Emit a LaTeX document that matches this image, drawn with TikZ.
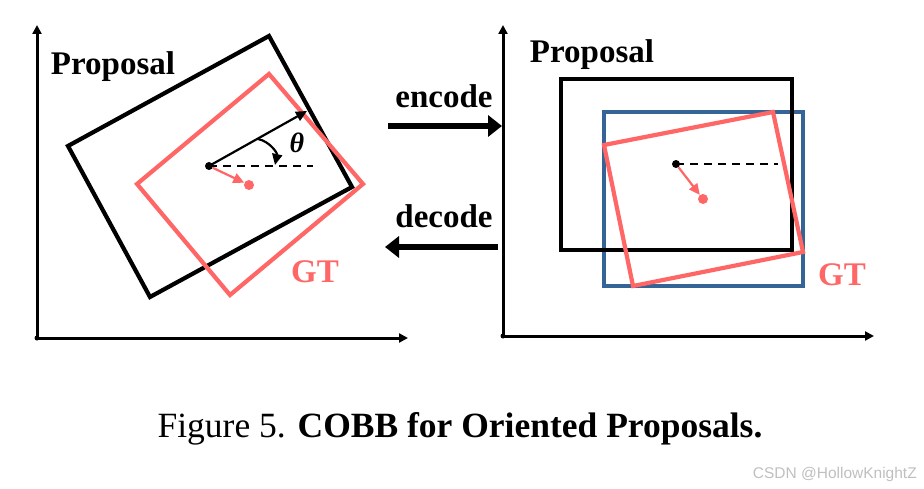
\documentclass[tikz,border=0pt]{standalone}
\usepackage{fontspec}
\setmainfont{Liberation Serif}
\newfontfamily\wmfont{Liberation Sans}
\usetikzlibrary{arrows.meta}
\definecolor{gtred}{RGB}{255,102,102}
\definecolor{hboxblue}{RGB}{52,101,150}

\begin{document}
\begin{tikzpicture}[x=1pt, y=-1pt,
  axis/.style={line width=3pt, -{Triangle[length=9pt,width=9pt]}},
  obox/.style={line width=4.2pt, line join=miter},
  thin arrow/.style={line width=2.2pt, -{Triangle[length=11pt,width=10pt]}},
  big arrow/.style={line width=6.5pt, -{Triangle[length=14pt,width=21pt]}},
  lbl/.style={font=\fontsize{33}{33}\selectfont\bfseries, inner sep=0pt, anchor=base},
  cdot/.style={circle, fill=black, inner sep=0pt, minimum size=8pt},
  gdot/.style={circle, fill=gtred, inner sep=0pt, minimum size=10pt},
  ref line/.style={line width=2.4pt, dash pattern=on 8pt off 6pt}]
\useasboundingbox (0,0) rectangle (924,489);

\coordinate (lo) at (37,338);
\coordinate (ly) at (37,25);
\coordinate (lx) at (408,338);
\draw[axis] (lo) -- (ly);
\draw[axis] (lo) -- (lx);
\fill (lo) circle (2.5);
\draw[obox] (68,146) -- (269,36) -- (352,187) -- (150,297) -- cycle;
\draw[obox, gtred] (269,74) -- (363,184) -- (230,295) -- (137,184) -- cycle;
\coordinate (dl) at (313,166);
\coordinate (al) at (307,111);
\coordinate (tl1) at (258,139);
\coordinate (tl2) at (275,165);
\node[cdot] (cl) at (209,166) {};
\draw[ref line] (cl.center) -- (dl);
\draw[thin arrow] (cl.center) -- (al);
\draw[thin arrow] (tl1) to[bend left=45] (tl2);
\node[gdot] (gl) at (249,185) {};
\draw[thin arrow, gtred] (cl) -- (gl);
\node[lbl] (pl) at (113,75) {Proposal};
\node[lbl, gtred] (gtl) at (315,283) {GT};
\node[font=\fontsize{28}{28}\selectfont\bfseries\itshape] (th) at (297,143) {θ};

\node[lbl] (enc) at (444,108) {encode};
\coordinate (e1) at (388,126);
\coordinate (e2) at (502,126);
\draw[big arrow] (e1) -- (e2);
\node[lbl] (dec) at (444,228) {decode};
\coordinate (d1) at (498,247);
\coordinate (d2) at (385,247);
\draw[big arrow] (d1) -- (d2);

\coordinate (ro) at (503,336);
\coordinate (ry) at (503,25);
\coordinate (rx) at (874,336);
\draw[axis] (ro) -- (ry);
\draw[axis] (ro) -- (rx);
\fill (ro) circle (2.5);
\draw[obox, hboxblue] (604,112) rectangle (803,286);
\draw[obox] (561,79) rectangle (792,250);
\draw[obox, gtred] (604,145) -- (773,112) -- (803,252) -- (633,286) -- cycle;
\coordinate (dr) at (778,164);
\node[cdot] (cr) at (676,164) {};
\draw[ref line] (cr.center) -- (dr);
\node[gdot] (gr) at (703,199) {};
\draw[thin arrow, gtred] (cr) -- (gr);
\node[lbl] (pr) at (592,63) {Proposal};
\node[lbl, gtred] (gtr) at (842,285) {GT};

\node[anchor=base, inner sep=0pt, font=\fontsize{35.5}{36}\selectfont] (cap) at (460,437) {Figure 5. \textbf{COBB for Oriented Proposals.}};
\node[anchor=base east, inner sep=0pt, text=black!25, font=\wmfont\fontsize{15.5}{16}\selectfont] (wm) at (917,478) {CSDN @HollowKnightZ};
\end{tikzpicture}
\end{document}
